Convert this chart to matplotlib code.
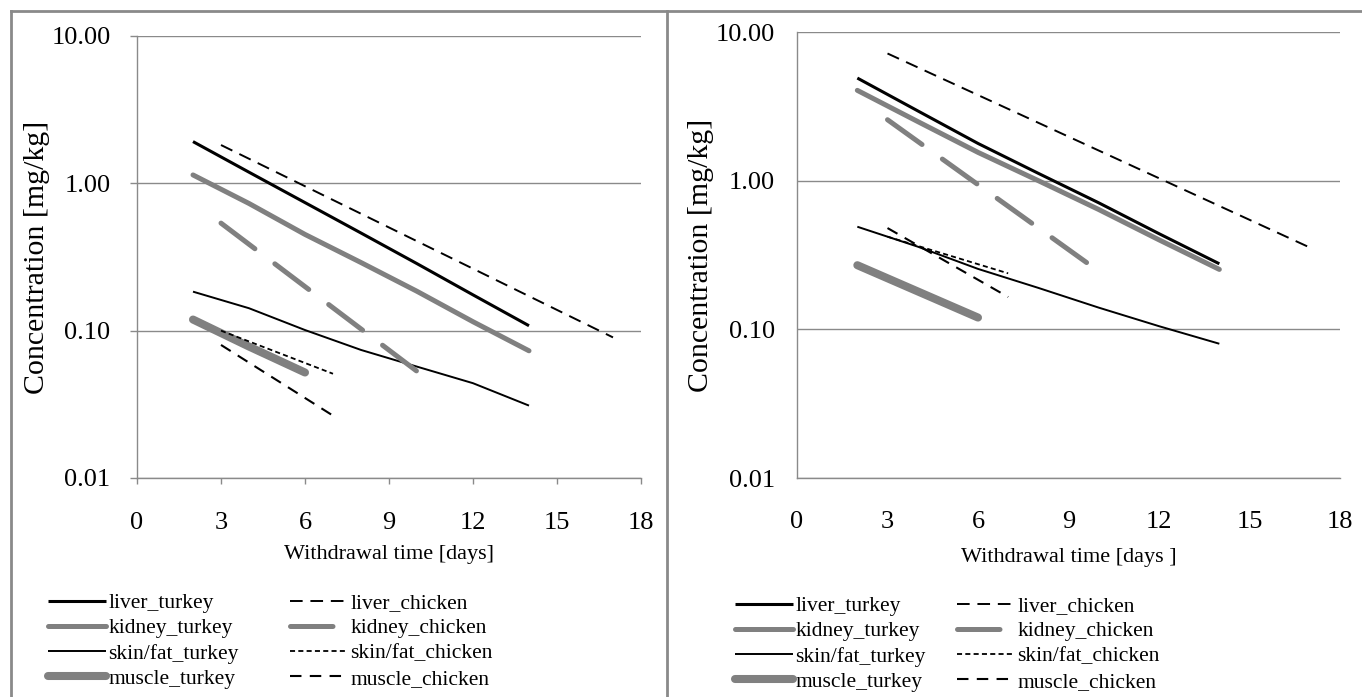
import numpy as np
import matplotlib.pyplot as plt
from matplotlib.lines import Line2D

plt.rcParams['font.family'] = ['Liberation Serif', 'DejaVu Serif']

# turkey curves: values every second day
days_turkey = [2, 4, 6, 8, 10, 12, 14]
days_muscle_turkey = [2, 4, 6]

# chicken curves: start and end of the fitted depletion line
days_liver_chicken = [3, 17]
days_kidney_chicken = [3, 10]
days_skin_chicken = [3, 7]
days_muscle_chicken = [3, 7]

# left panel
liver_turkey_a = [1.92, 1.19, 0.74, 0.46, 0.285, 0.175, 0.108]
kidney_turkey_a = [1.14, 0.73, 0.45, 0.29, 0.185, 0.115, 0.073]
skin_turkey_a = [0.184, 0.142, 0.101, 0.074, 0.057, 0.044, 0.031]
muscle_turkey_a = [0.119, 0.078, 0.052]
liver_chicken_a = [1.82, 0.090]
kidney_chicken_a = [0.537, 0.053]
skin_chicken_a = [0.100, 0.051]
muscle_chicken_a = [0.080, 0.0265]

# right panel
liver_turkey_b = [4.9, 2.95, 1.78, 1.12, 0.71, 0.44, 0.276]
kidney_turkey_b = [4.05, 2.5, 1.55, 1.0, 0.64, 0.40, 0.253]
skin_turkey_b = [0.49, 0.36, 0.255, 0.19, 0.14, 0.105, 0.080]
muscle_turkey_b = [0.27, 0.18, 0.12]
liver_chicken_b = [7.17, 0.355]
kidney_chicken_b = [2.57, 0.246]
skin_chicken_b = [0.42, 0.238]
muscle_chicken_b = [0.48, 0.165]

# legend order: turkey column first, then chicken column
labels = ['liver_turkey', 'kidney_turkey', 'skin/fat_turkey', 'muscle_turkey',
          'liver_chicken', 'kidney_chicken', 'skin/fat_chicken', 'muscle_chicken']
yticks = [0.01, 0.1, 1, 10]
ytick_labels = ['0.01', '0.10', '1.00', '10.00']
xticks = [0, 3, 6, 9, 12, 15, 18]

GREY = '#808080'
AXIS_GREY = '#8a8a8a'
FS_TICK = 19
FS_YLAB = 21.5
FS_XLAB = 16
FS_LEG = 15.5

styles = {
    'liver_turkey': dict(color='black', lw=2.2, solid_capstyle='butt'),
    'kidney_turkey': dict(color=GREY, lw=3.6, solid_capstyle='round'),
    'skin/fat_turkey': dict(color='black', lw=1.4, solid_capstyle='butt'),
    'muscle_turkey': dict(color=GREY, lw=5.8, solid_capstyle='round'),
    'liver_chicken': dict(color='black', lw=1.4, dashes=(6.5, 4.0)),
    'kidney_chicken': dict(color=GREY, lw=3.6, dashes=(8.5, 5.0), dash_capstyle='round'),
    'skin/fat_chicken': dict(color='black', lw=1.3, dashes=(2.8, 1.8)),
    'muscle_chicken': dict(color='black', lw=1.5, dashes=(5.5, 4.0)),
}

fig = plt.figure(figsize=(13.62, 6.97), dpi=100)


def panel(rect, data, ticks_on, ylab_x):
    ax = fig.add_axes(rect)
    for name, (xs, ys) in data.items():
        ax.plot(xs, ys, **styles[name])
    ax.set_yscale('log')
    ax.set_ylim(0.01, 10)
    ax.set_xlim(0, 18)
    ax.set_xticks(xticks)
    ax.set_xticklabels([str(t) for t in xticks])
    ax.set_yticks(yticks)
    ax.set_yticklabels(ytick_labels)
    ax.yaxis.set_minor_locator(plt.NullLocator())
    ax.grid(axis='y', color=AXIS_GREY, lw=1.0)
    ax.set_axisbelow(True)
    for s in ['top', 'right']:
        ax.spines[s].set_visible(False)
    for s in ['left', 'bottom']:
        ax.spines[s].set_color(AXIS_GREY)
        ax.spines[s].set_linewidth(1.0)
    if ticks_on:
        ax.tick_params(axis='x', direction='out', length=4.3, width=1, color=AXIS_GREY, pad=20)
        ax.tick_params(axis='y', direction='out', length=5, width=1, color=AXIS_GREY, pad=14)
    else:
        ax.tick_params(axis='x', length=0, pad=24)
        ax.tick_params(axis='y', length=0, pad=16)
    ax.tick_params(labelsize=FS_TICK)
    ax.set_ylabel('Concentration [mg/kg]', fontsize=FS_YLAB)
    ax.yaxis.set_label_coords(ylab_x, 0.5)
    return ax


ax1 = panel([137 / 1362, 219 / 697, 504 / 1362, 442 / 697], {
    'liver_turkey': (days_turkey, liver_turkey_a),
    'kidney_turkey': (days_turkey, kidney_turkey_a),
    'skin/fat_turkey': (days_turkey, skin_turkey_a),
    'muscle_turkey': (days_muscle_turkey, muscle_turkey_a),
    'liver_chicken': (days_liver_chicken, liver_chicken_a),
    'kidney_chicken': (days_kidney_chicken, kidney_chicken_a),
    'skin/fat_chicken': (days_skin_chicken, skin_chicken_a),
    'muscle_chicken': (days_muscle_chicken, muscle_chicken_a),
}, True, -0.173)
ax1.set_xlabel('Withdrawal time [days]', fontsize=FS_XLAB)
ax1.xaxis.set_label_coords(0.5, -0.152)

ax2 = panel([797 / 1362, 219 / 697, 543 / 1362, 446 / 697], {
    'liver_turkey': (days_turkey, liver_turkey_b),
    'kidney_turkey': (days_turkey, kidney_turkey_b),
    'skin/fat_turkey': (days_turkey, skin_turkey_b),
    'muscle_turkey': (days_muscle_turkey, muscle_turkey_b),
    'liver_chicken': (days_liver_chicken, liver_chicken_b),
    'kidney_chicken': (days_kidney_chicken, kidney_chicken_b),
    'skin/fat_chicken': (days_skin_chicken, skin_chicken_b),
    'muscle_chicken': (days_muscle_chicken, muscle_chicken_b),
}, False, -0.153)
ax2.set_xlabel('Withdrawal time [days ]', fontsize=FS_XLAB)
ax2.xaxis.set_label_coords(0.5, -0.156)

# legends below each panel, two columns without a frame
handles = [Line2D([], [], **styles[n]) for n in labels]
for x0, y0, colsp in ((48, 593, 2.4), (735, 596, 1.45)):
    fig.legend(handles, labels, loc='upper left',
               bbox_to_anchor=(x0 / 1362, 1 - y0 / 697),
               ncol=2, frameon=False, fontsize=FS_LEG, handlelength=2.7,
               handletextpad=0.1, columnspacing=colsp, labelspacing=0.24,
               borderpad=0, borderaxespad=0)

# chart borders
for xs, ys in [((11, 11), (11, 697)), ((11, 1362), (11, 11)), ((667, 667), (11, 697))]:
    fig.add_artist(Line2D([x / 1362 for x in xs], [1 - y / 697 for y in ys],
                          color=AXIS_GREY, lw=2))

fig.savefig('out.png', dpi=100)
